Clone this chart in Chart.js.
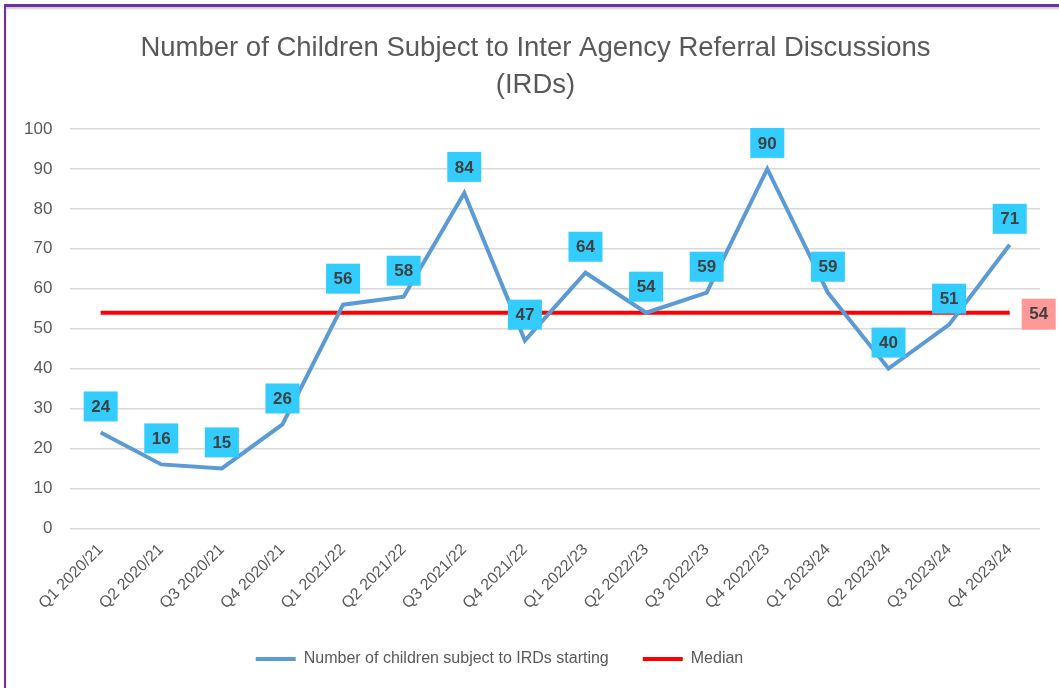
<!DOCTYPE html>
<html lang="en">
<head>
<meta charset="UTF-8">
<title>IRDs</title>
<script src="https://cdn.jsdelivr.net/npm/chart.js@4.4.1/dist/chart.umd.min.js"></script>
<style>
  html, body { margin: 0; padding: 0; background: #fff; overflow: hidden; }
  #wrap { position: relative; width: 1059px; height: 688px; }
  #frame { position: absolute; left: 4px; top: 4px; width: 1070px; height: 681px;
           border-left: 2px solid #7030A0; border-top: 3px solid #7030A0; border-bottom: 1px solid #eee;
           box-shadow: inset 0 2px 2px #ccc; pointer-events: none; }
  canvas { position: absolute; left: 0; top: 0; }
</style>
</head>
<body>
<div id="wrap">
  <canvas id="chart" width="1059" height="688"></canvas>
  <div id="frame"></div>
</div>
<script>
// quarters on the x axis
const quarters = ['Q1 2020/21', 'Q2 2020/21', 'Q3 2020/21', 'Q4 2020/21',
                  'Q1 2021/22', 'Q2 2021/22', 'Q3 2021/22', 'Q4 2021/22',
                  'Q1 2022/23', 'Q2 2022/23', 'Q3 2022/23', 'Q4 2022/23',
                  'Q1 2023/24', 'Q2 2023/24', 'Q3 2023/24', 'Q4 2023/24'];
const irds = [24, 16, 15, 26, 56, 58, 84, 47, 64, 54, 59, 90, 59, 40, 51, 71];
const median = [54, 54, 54, 54, 54, 54, 54, 54, 54, 54, 54, 54, 54, 54, 54, 54];

const FONT = "'Liberation Sans', Arial, sans-serif";

// draws the little boxed value labels like excel does
const boxLabels = {
  id: 'boxLabels',
  afterLayout(chart) {
    // excel doesn't centre title and legend on the same spot
    chart.titleBlock.left += 6;
    chart.titleBlock.right += 6;
    chart.legend.left -= 30;
    chart.legend.right -= 30;
  },
  afterDatasetsDraw(chart) {
    const ctx = chart.ctx;
    ctx.save();
    ctx.font = 'bold 17px ' + FONT;
    ctx.textAlign = 'center';
    ctx.textBaseline = 'middle';
    chart.getDatasetMeta(0).data.forEach((pt, i) => {
      const txt = String(irds[i]);
      const x = pt.x, y = pt.y - 26;
      ctx.fillStyle = '#33CCFF';
      ctx.fillRect(x - 17, y - 15, 34, 30);
      ctx.fillStyle = '#404040';
      ctx.fillText(txt, x, y + 1);
    });
    // median only labelled at the end
    const meta = chart.getDatasetMeta(1).data;
    const last = meta[meta.length - 1];
    const mx = last.x + 29, my = last.y + 1;
    ctx.fillStyle = '#FF9999';
    ctx.fillRect(mx - 17, my - 15, 34, 31);
    ctx.fillStyle = '#404040';
    ctx.fillText(String(median[median.length - 1]), mx, my + 1);
    ctx.restore();
  }
};

const ctx = document.getElementById('chart').getContext('2d');
new Chart(ctx, {
  type: 'line',
  data: {
    labels: quarters,
    datasets: [{
      label: 'Number of children subject to IRDs starting',
      data: irds,
      borderColor: '#5B9BD5',
      backgroundColor: '#5B9BD5',
      borderWidth: 4,
      pointRadius: 0,
      tension: 0,
      fill: false
    }, {
      label: 'Median',
      data: median,
      borderColor: '#FF0000',
      backgroundColor: '#FF0000',
      borderWidth: 4,
      pointRadius: 0,
      fill: false
    }]
  },
  options: {
    responsive: false,
    animation: false,
    layout: { autoPadding: false, padding: { left: 19, right: 19, top: 0, bottom: 11 } },
    plugins: {
      title: {
        display: true,
        text: ['Number of Children Subject to Inter Agency Referral Discussions', '(IRDs)'],
        color: '#595959',
        font: { family: FONT, size: 27.5, weight: 'normal', lineHeight: '37px' },
        padding: { top: 30, bottom: 25 }
      },
      legend: {
        position: 'bottom',
        labels: {
          usePointStyle: true,
          pointStyle: 'line',
          pointStyleWidth: 40,
          color: '#595959',
          font: { family: FONT, size: 16 },
          padding: 34
        }
      },
      tooltip: { enabled: false }
    },
    scales: {
      x: {
        offset: true,
        grid: { display: false, drawTicks: false },
        border: { display: false },
        afterFit(scale) {
          scale.height -= 8;
        },
        ticks: {
          color: '#595959',
          font: { family: FONT, size: 16 },
          maxRotation: 45,
          minRotation: 45,
          padding: 12
        }
      },
      y: {
        min: 0,
        max: 100,
        grid: { color: '#D9D9D9', lineWidth: 1.5, drawTicks: false },
        border: { display: false },
        // chart.js counts the tick padding twice
        afterFit(scale) {
          scale.width -= 13;
        },
        ticks: {
          stepSize: 10,
          color: '#595959',
          font: { family: FONT, size: 17 },
          padding: 18
        }
      }
    }
  },
  plugins: [boxLabels]
});
</script>
</body>
</html>
